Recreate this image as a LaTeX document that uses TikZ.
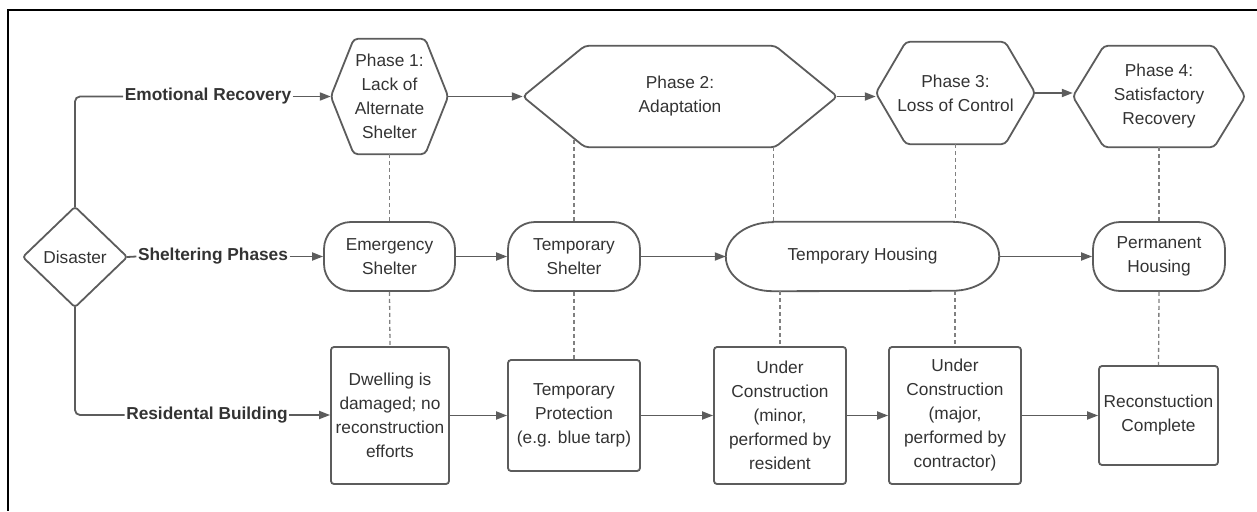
\documentclass[tikz,border=0pt]{standalone}
\usepackage{fontspec}
\setmainfont{Liberation Sans}
\usetikzlibrary{arrows.meta}
\definecolor{ln}{HTML}{5C5C5C}
\definecolor{tx}{HTML}{333333}
\definecolor{dl}{HTML}{808080}
\newcommand\hexpath[2]{\path[outl] ([xshift=#2]#1.north west) -- ([xshift=-#2]#1.north east) -- (#1.east) -- ([xshift=-#2]#1.south east) -- ([xshift=#2]#1.south west) -- (#1.west) -- cycle;}
\begin{document}
\begin{tikzpicture}[x=1pt,y=1pt,
 every node/.style={font=\fontsize{17.3}{24}\selectfont, text=tx},
 shp/.style={inner sep=0pt, align=center},
 outl/.style={draw=ln, line width=1.8pt, rounded corners=4pt},
 box/.style={shp, draw=ln, line width=1.8pt, rounded corners=3pt},
 pill/.style={shp, draw=ln, line width=1.8pt, rounded corners=27pt},
 lab/.style={font=\bfseries\fontsize{17.3}{24}\selectfont, inner sep=1.5pt, text=tx},
 conn/.style={draw=ln, line width=1.8pt},
 arr/.style={conn, -{Triangle[length=11pt,width=8pt]}},
 dsh/.style={draw=dl, line width=1.3pt, dash pattern=on 4pt off 3pt}
]
\useasboundingbox (0,0) rectangle (1257,-511);
\draw[line width=2.6pt, black] (1257,-10) -- (8,-10) -- (8,-511);

% Disaster
\node[shp, minimum width=104pt, minimum height=100pt] (dis) at (75,-257) {Disaster};
\path[outl, rounded corners=3pt] (dis.north) -- (dis.east) -- (dis.south) -- (dis.west) -- cycle;

% row labels
\node[lab] (er) at (208,-96.5) {Emotional Recovery};
\node[lab] (sp) at (213,-256.5) {Sheltering Phases};
\node[lab] (rb) at (207,-415) {Residental Building};

% phases
\node[shp, minimum width=117pt, minimum height=115pt] (p1) at (389.5,-96.5) {Phase 1:\\Lack of\\Alternate\\Shelter};
\hexpath{p1}{23pt}
\node[shp, minimum width=314pt, minimum height=101pt] (p2) at (680,-96.5) {Phase 2:\\Adaptation};
\hexpath{p2}{62pt}
\node[shp, minimum width=159pt, minimum height=102pt] (p3) at (955.5,-93) {Phase 3:\\Loss of Control};
\hexpath{p3}{30pt}
\node[shp, minimum width=172pt, minimum height=101pt] (p4) at (1159,-96.5) {Phase 4:\\Satisfactory\\Recovery};
\hexpath{p4}{31pt}

% sheltering
\node[pill, minimum width=131pt, minimum height=69pt] (es) at (389.5,-256.5) {Emergency\\Shelter};
\node[pill, minimum width=132pt, minimum height=69pt] (ts) at (574,-256.5) {Temporary\\Shelter};
\node[shp, minimum width=273pt, minimum height=69pt] (th) at (862.5,-256.5) {Temporary Housing};
\path[outl, rounded corners=0pt] ([xshift=47pt]th.north west) -- ([xshift=-47pt]th.north east) arc[start angle=90,end angle=-90,x radius=47pt,y radius=34.5pt] -- ([xshift=47pt]th.south west) arc[start angle=270,end angle=90,x radius=47pt,y radius=34.5pt] -- cycle;
\node[pill, minimum width=132pt, minimum height=69pt] (ph) at (1159,-256.5) {Permanent\\Housing};

% building
\node[box, minimum width=118pt, minimum height=137pt] (dw) at (390,-415.5) {Dwelling is\\damaged; no\\reconstruction\\efforts};
\node[box, minimum width=132pt, minimum height=111pt] (tp) at (574,-415.5) {Temporary\\Protection\\(e.g. blue tarp)};
\node[box, minimum width=132pt, minimum height=137pt] (uc1) at (780,-415.5) {Under\\Construction\\(minor,\\performed by\\resident};
\node[box, minimum width=132pt, minimum height=137pt] (uc2) at (955,-415.5) {Under\\Construction\\(major,\\performed by\\contractor)};
\node[box, minimum width=119pt, minimum height=99pt] (rc) at (1158.5,-415.5) {Reconstuction\\Complete};

% connectors from disaster
\draw[conn, rounded corners=5pt] (dis.north) |- (er.west);
\draw[conn] (dis.east) -- (sp.west);
\draw[conn, rounded corners=5pt] (dis.south) |- (rb.west);
\draw[arr] (er.east) -- (p1.west);
\draw[arr] (sp.east) -- (es.west);
\draw[arr] (rb.east) -- (rb.east -| dw.west);

% row arrows
\draw[arr] (p1.east) -- (p2.west);
\draw[arr] (p2.east) -- (p2.east -| p3.west);
\draw[arr] (p3.east) -- (p3.east -| p4.west);
\draw[arr] (es.east) -- (ts.west);
\draw[arr] (ts.east) -- (th.west);
\draw[arr] (th.east) -- (ph.west);
\draw[arr] (dw.east) -- (tp.west);
\draw[arr] (tp.east) -- (uc1.west);
\draw[arr] (uc1.east) -- (uc2.west);
\draw[arr] (uc2.east) -- (rc.west);

% dashed links
\draw[dsh] (p1.south) -- (es.north);
\draw[dsh] (es.south) -- (dw.north);
\draw[dsh] ([yshift=7pt]ts.north |- p2.south) -- (ts.north);
\draw[dsh] (ts.south) -- (tp.north);
\draw[dsh] ([xshift=-64pt]p2.south east) -- ([xshift=-64pt]p2.south east |- th.north);
\draw[dsh] (uc1.north |- th.south) -- (uc1.north);
\draw[dsh] (p3.south) -- (p3.south |- th.north);
\draw[dsh] (uc2.north |- th.south) -- (uc2.north);
\draw[dsh] (p4.south) -- (ph.north);
\draw[dsh] (ph.south) -- (rc.north);
\end{tikzpicture}
\end{document}
